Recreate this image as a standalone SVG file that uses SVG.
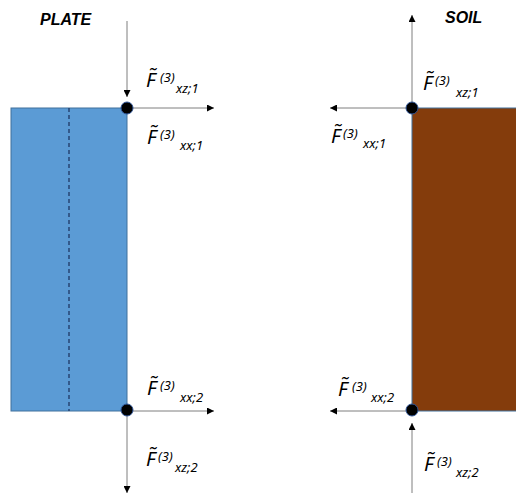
<svg xmlns="http://www.w3.org/2000/svg" width="516" height="493" viewBox="0 0 516 493">
<style>
.title{font-family:"Liberation Sans",Arial,sans-serif;font-weight:bold;font-style:italic;font-size:16px;fill:#000}
.lbl{font-family:"Noto Sans","DejaVu Sans",sans-serif;font-style:italic;fill:#000}
.F{font-size:20px}
.s{font-size:13px}
.conn{stroke:#7f7f7f;stroke-width:1;fill:none;marker-end:url(#ah)}
.dot{fill:#000;stroke:#2F5597;stroke-width:1}
</style>
<defs>
<marker id="ah" viewBox="0 0 10 10" refX="10" refY="5" markerWidth="7" markerHeight="7" markerUnits="userSpaceOnUse" orient="auto">
<path d="M0,0 L10,5 L0,10 Z" fill="#000"/>
</marker>
</defs>
<rect width="516" height="493" fill="#fff"/>
<g id="plate">
<rect x="11" y="108" width="116" height="303" fill="#5B9BD5" stroke="#41719C" stroke-width="1"/>
<line x1="69" y1="108" x2="69" y2="411" stroke="#1F3864" stroke-width="1.3" stroke-dasharray="4,3"/>
<text class="title" x="40" y="25">PLATE</text>
</g>
<g id="soil">
<rect x="412" y="108" width="110" height="303" fill="#843C0C" stroke="#41719C" stroke-width="1"/>
<text class="title" x="445" y="23">SOIL</text>
</g>
<g id="connectors">
<line class="conn" x1="127" y1="21" x2="127" y2="97"/>
<line class="conn" x1="127" y1="108" x2="214" y2="108"/>
<line class="conn" x1="127" y1="411" x2="214" y2="411"/>
<line class="conn" x1="127" y1="411" x2="127" y2="493"/>
<line class="conn" x1="412" y1="108" x2="412" y2="15"/>
<line class="conn" x1="412" y1="108" x2="330" y2="108"/>
<line class="conn" x1="412" y1="411" x2="330" y2="411"/>
<line class="conn" x1="412" y1="493" x2="412" y2="423"/>
</g>
<g id="node-plate-1"><circle class="dot" cx="127" cy="108" r="6"/></g>
<g id="node-plate-2"><circle class="dot" cx="127" cy="410" r="6"/></g>
<g id="node-soil-1"><circle class="dot" cx="412" cy="108" r="6"/></g>
<g id="node-soil-2"><circle class="dot" cx="412" cy="410" r="6"/></g>
<g id="labels">
<text class="lbl"><tspan class="F" x="146" y="87">F̃</tspan><tspan class="s" x="160" y="82">(3)</tspan><tspan class="s" x="176" y="93">xz;1</tspan></text>
<text class="lbl"><tspan class="F" x="147" y="144">F̃</tspan><tspan class="s" x="160" y="139">(3)</tspan><tspan class="s" x="180" y="150">xx;1</tspan></text>
<text class="lbl"><tspan class="F" x="147" y="395">F̃</tspan><tspan class="s" x="160" y="390">(3)</tspan><tspan class="s" x="180" y="402">xx;2</tspan></text>
<text class="lbl"><tspan class="F" x="146" y="466">F̃</tspan><tspan class="s" x="158" y="461">(3)</tspan><tspan class="s" x="175" y="472">xz;2</tspan></text>
<text class="lbl"><tspan class="F" x="423" y="90">F̃</tspan><tspan class="s" x="435" y="85">(3)</tspan><tspan class="s" x="456" y="97">xz;1</tspan></text>
<text class="lbl"><tspan class="F" x="331" y="143">F̃</tspan><tspan class="s" x="343" y="138">(3)</tspan><tspan class="s" x="363" y="148">xx;1</tspan></text>
<text class="lbl"><tspan class="F" x="338" y="396">F̃</tspan><tspan class="s" x="352" y="391">(3)</tspan><tspan class="s" x="371" y="402">xx;2</tspan></text>
<text class="lbl"><tspan class="F" x="424" y="471">F̃</tspan><tspan class="s" x="437" y="466">(3)</tspan><tspan class="s" x="456" y="477">xz;2</tspan></text>
</g>
</svg>
